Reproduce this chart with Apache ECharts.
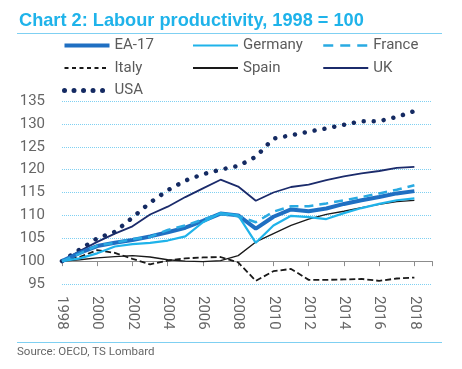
<!DOCTYPE html>
<html>
<head>
<meta charset="utf-8">
<script src="https://cdn.jsdelivr.net/npm/echarts@6/dist/echarts.min.js"></script>
<style>
html,body{margin:0;padding:0;background:#fff;}
#c{width:462px;height:369px;}
</style>
</head>
<body>
<div id="c"></div>
<script>
const years = [1998,1999,2000,2001,2002,2003,2004,2005,2006,2007,2008,2009,2010,2011,2012,2013,2014,2015,2016,2017,2018];
const ea17    = [100,101.8,103.3,104.0,104.6,105.4,106.3,107.3,108.8,110.4,110.0,107.1,109.7,111.3,110.9,111.5,112.5,113.3,114.0,114.8,115.3];
const germany = [100,100.6,101.7,103.2,103.7,104.0,104.5,105.4,108.5,110.5,110.0,104.0,107.8,109.9,109.6,109.2,110.5,111.6,112.5,113.3,113.7];
const france  = [100,101.6,103.4,104.0,104.8,105.3,106.8,107.8,109.1,110.3,109.8,108.5,110.8,112.0,112.0,112.6,113.3,114.0,114.8,115.6,116.6];
const italy   = [100,100.9,102.4,101.8,100.5,99.3,100.1,100.6,100.8,100.9,99.7,95.7,97.8,98.3,95.9,95.9,96.0,96.1,95.7,96.2,96.4];
const spain   = [100,100.3,100.7,101.0,101.2,100.9,100.3,100.0,99.9,100.1,101.2,104.2,106.0,107.8,109.2,110.2,110.9,111.7,112.4,113.0,113.3];
const uk      = [100,102.2,104.2,106.0,107.6,110.2,111.9,114.0,115.9,117.8,116.3,113.2,115.0,116.2,116.7,117.7,118.5,119.2,119.7,120.4,120.6];
const usa     = [100,102.5,105.0,106.4,109.5,112.8,115.5,117.6,119.0,120.0,120.8,122.8,126.8,127.5,128.3,129.0,129.8,130.6,130.6,131.5,132.8];
const xTicks = {min:1998, max:2019, interval:2};
const yTicks = {min:95, max:135, interval:5};

const pairs = arr => years.map((y,i)=>[y, arr[i]]);
const gray = '#666';
const font = 'Roboto, "Liberation Sans", Arial, sans-serif';

const C = {
  ea:'#1f6fc2', de:'#1fb3ea', fr:'#29aae2', it:'#1a1a1a', es:'#1a1a1a', uk:'#1b2b6b', us:'#142a62'
};
const styles = {
  'EA-17':  {color:C.ea, width:4,   type:'solid'},
  'Germany':{color:C.de, width:2.2, type:'solid'},
  'France': {color:C.fr, width:2.5, type:[9,6]},
  'Italy':  {color:C.it, width:1.8, type:[6,3]},
  'Spain':  {color:C.es, width:1.3, type:'solid'},
  'UK':     {color:C.uk, width:1.8, type:'solid'},
  'USA':    {color:C.us, width:4.5, type:[0.01,10], cap:'round'}
};
const legendStyles = {
  'EA-17':  {width:4,   type:'solid'},
  'Germany':{width:2,   type:'solid'},
  'France': {width:2.5, type:[10,7]},
  'Italy':  {width:1.8, type:[4,3.5]},
  'Spain':  {width:1.8, type:'solid'},
  'UK':     {width:2,   type:'solid'},
  'USA':    {width:5,   type:[0.01,9.5], cap:'round'}
};
const seriesData = {'EA-17':ea17,'Germany':germany,'France':france,'Italy':italy,'Spain':spain,'UK':uk,'USA':usa};
const order = ['Italy','Spain','UK','USA','EA-17','Germany','France'];

const series = order.map((n,k)=>({
  name:n, type:'line', data:pairs(seriesData[n]), showSymbol:false, symbol:'none',
  lineStyle:{color:styles[n].color, width:styles[n].width, type:styles[n].type, cap:styles[n].cap||'butt'},
  itemStyle:{color:styles[n].color},
  z: 2+k, animation:false
}));

function legendItem(n){
  const s = styles[n], l = legendStyles[n];
  return {name:n, itemStyle:{opacity:0, borderWidth:0},
    lineStyle:{color:s.color, width:l.width, type:l.type, cap:l.cap||'butt', opacity:1}};
}
function mkLegend(left, names){
  return {left:left, top:38, orient:'vertical', padding:0, itemWidth:45, itemHeight:14, itemGap:7.5,
    textStyle:{color:'#5b5b5b', fontSize:15, fontFamily:font, padding:[0,0,0,0]},
    selectedMode:false, data:names.map(legendItem)};
}

const chart = echarts.init(document.getElementById('c'), null, {renderer:'canvas'});
chart.setOption({
  animation:false,
  backgroundColor:'#fff',
  title:{text:'Chart 2: Labour productivity, 1998 = 100', left:14, top:7,
    textStyle:{color:'#1fb3ea', fontSize:18.2, fontWeight:'bold', fontFamily:'"Liberation Sans", Arial, sans-serif'}},
  legend:[mkLegend(62,['EA-17','Italy','USA']), mkLegend(192,['Germany','Spain']), mkLegend(322,['France','UK'])],
  grid:{left:62, right:30, top:101, bottom:85},
  xAxis:[{
    type:'value', min:xTicks.min, max:xTicks.max, interval:xTicks.interval,
    axisLine:{show:false}, axisTick:{show:false}, splitLine:{show:false},
    axisLabel:{rotate:-90, color:gray, fontSize:15, fontFamily:font, margin:12, showMaxLabel:false,
      formatter:v=>String(v)}
  },{
    type:'value', min:xTicks.min, max:xTicks.max, interval:xTicks.interval, position:'bottom',
    offset:-(100-95)/(135-95)*183,
    axisLine:{show:true, lineStyle:{color:'#8c8c8c', width:1}},
    axisTick:{show:true, inside:false, length:5, lineStyle:{color:'#8c8c8c'}},
    axisLabel:{show:false}, splitLine:{show:false}
  }],
  yAxis:{
    type:'value', min:yTicks.min, max:yTicks.max, interval:yTicks.interval,
    axisLine:{show:false}, axisTick:{show:false},
    axisLabel:{color:gray, fontSize:15, fontFamily:font, margin:17},
    splitLine:{show:true, lineStyle:{color:'#7fd0f2', width:1, type:[1,1]}}
  },
  graphic:[
    {type:'line', shape:{x1:17,y1:33.5,x2:442,y2:33.5}, style:{stroke:'#7fd0f2', lineWidth:1}},
    {type:'line', shape:{x1:17,y1:342.5,x2:442,y2:342.5}, style:{stroke:'#7fd0f2', lineWidth:1}},
    {type:'text', left:17, top:346, style:{text:'Source: OECD, TS Lombard', fill:'#666', fontSize:11.5, fontFamily:font}}
  ],
  series: series
});
</script>
</body>
</html>
